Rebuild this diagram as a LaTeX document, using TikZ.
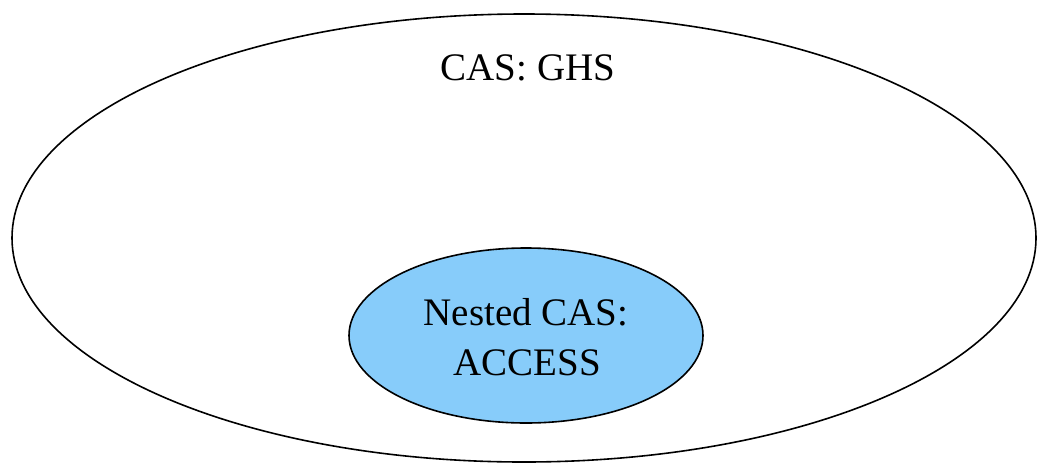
\documentclass[tikz,border=0pt]{standalone}
\usepackage{fontspec}
\setmainfont{Liberation Serif}
\definecolor{innerblue}{RGB}{135,204,250}
\begin{document}
\begin{tikzpicture}[x=1pt,y=-1pt,
  ring/.style={draw=black,line width=1.6pt},
  label/.style={font=\fontsize{39}{50}\selectfont,inner sep=0pt,anchor=base}]
\useasboundingbox (0,0) rectangle (1038,464);
\fill[white] (0,0) rectangle (1038,464);
\draw[ring] (524,238) ellipse [x radius=512, y radius=224];
\draw[ring,fill=innerblue] (526,335.5) ellipse [x radius=177, y radius=87.5];
\node[label] (outer) at (528,80) {CAS: GHS};
\node[label] (inner1) at (526,325) {Nested CAS:};
\node[label] (inner2) at (527,375) {ACCESS};
\end{tikzpicture}
\end{document}
